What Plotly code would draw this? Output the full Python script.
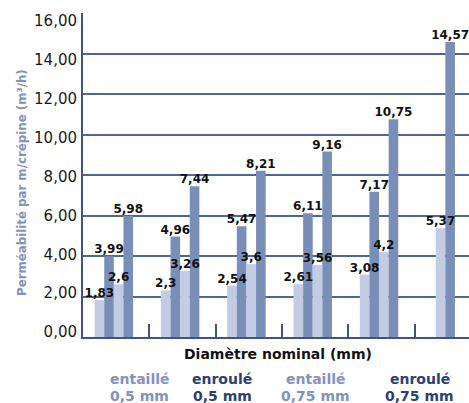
import plotly.graph_objects as go

# Permeability per metre of screen (m3/h) for each nominal diameter group
groups = [0, 1, 2, 3, 4, 5]
entaille_05 = [1.83, 2.3, 2.54, 2.61, 3.08, None]
enroule_05 = [3.99, 4.96, 5.47, 6.11, 7.17, None]
entaille_075 = [2.6, 3.26, 3.6, 3.56, 4.2, 5.37]
enroule_075 = [5.98, 7.44, 8.21, 9.16, 10.75, 14.57]

series_names = ["entaillé 0,5 mm", "enroulé 0,5 mm", "entaillé 0,75 mm", "enroulé 0,75 mm"]
series_values = [entaille_05, enroule_05, entaille_075, enroule_075]

y_ticks = [0, 2, 4, 6, 8, 10, 12, 14, 16]

LIGHT = "#c2cce2"
DARK = "#7a8fb8"
NAVY = "#3d5588"
TEXT_LIGHT = "#8093bd"
TEXT_DARK = "#2d3f70"
FONT = "DejaVu Sans"

series_colors = [LIGHT, DARK, LIGHT, DARK]
bar_w = 0.145
shift = -0.035


def fmt(v):
    return f"{v:g}".replace(".", ",")


# bars present in each group are packed side by side around the group centre
offsets = [[None] * len(groups) for _ in series_values]
for g in range(len(groups)):
    present = [s for s, vals in enumerate(series_values) if vals[g] is not None]
    n = len(present)
    for k, s in enumerate(present):
        offsets[s][g] = shift + (k - n / 2) * bar_w

fig = go.Figure()
label_x, label_y, label_t = [], [], []
for name, vals, col, offs in zip(series_names, series_values, series_colors, offsets):
    fig.add_trace(go.Bar(
        x=groups,
        y=vals,
        name=name,
        width=bar_w,
        offset=[o if o is not None else 0 for o in offs],
        marker=dict(color=col, line=dict(width=0)),
        showlegend=False,
        hoverinfo="skip",
    ))
    for g, v, o in zip(groups, vals, offs):
        if v is not None:
            label_x.append(g + o + bar_w / 2)
            label_y.append(v)
            label_t.append(fmt(v))

# value labels sit above every bar, on top of all bars
fig.add_trace(go.Scatter(
    x=label_x, y=label_y, text=label_t,
    mode="text", textposition="top center",
    textfont=dict(family=FONT, size=12, color="#111111", weight="bold"),
    cliponaxis=False, showlegend=False, hoverinfo="skip",
))

# carrier trace for the tick-label axis
fig.add_trace(go.Scatter(x=[None], y=[None], yaxis="y2", showlegend=False, hoverinfo="skip"))

plot_left = 83
plot_w = 469 - plot_left
cat_px = 66.3

fig.update_layout(
    width=469,
    height=403,
    margin=dict(l=plot_left, r=0, t=13, b=66),
    barmode="overlay",
    separators=", ",
    plot_bgcolor="white",
    paper_bgcolor="white",
    font=dict(family=FONT, color="#1a1a1a"),
    xaxis=dict(
        range=[-0.5, -0.5 + plot_w / cat_px],
        showgrid=False,
        zeroline=False,
        showline=True,
        linecolor=NAVY,
        linewidth=2,
        tickvals=[g + 0.5 for g in groups[:-1]],
        ticks="inside",
        ticklen=13,
        tickwidth=1.5,
        tickcolor=NAVY,
        showticklabels=False,
        fixedrange=True,
    ),
    yaxis=dict(
        range=[0, 16],
        tickvals=y_ticks,
        showgrid=True,
        gridcolor="#4d6696",
        gridwidth=1.5,
        zeroline=False,
        showline=True,
        linecolor=NAVY,
        linewidth=2,
        ticks="",
        showticklabels=False,
        fixedrange=True,
    ),
    # tick labels are set a little tighter than the gridlines
    yaxis2=dict(
        overlaying="y",
        side="left",
        range=[-0.257, 16.41],
        tickvals=y_ticks,
        tickformat=".2f",
        showgrid=False,
        zeroline=False,
        showline=False,
        ticks="",
        ticklabelstandoff=5,
        tickfont=dict(family=FONT, size=15, color="#1a1a1a"),
        fixedrange=True,
    ),
)

annotations = [
    dict(text="Perméabilité par m/crépine (m³/h)", textangle=-90,
         xref="paper", yref="paper", x=(22 - plot_left) / plot_w, y=(337 - 183) / 324,
         xanchor="center", yanchor="middle", showarrow=False,
         font=dict(family=FONT, size=11.8, color=TEXT_LIGHT, weight="bold")),
    dict(text="Diamètre nominal (mm)",
         xref="paper", yref="paper", x=(278 - plot_left) / plot_w, y=(337 - 354) / 324,
         xanchor="center", yanchor="middle", showarrow=False,
         font=dict(family=FONT, size=14, color="#111111", weight="bold")),
]

legend_centres = [139.5, 222, 315.5, 419.5]
legend_colors = [TEXT_LIGHT, TEXT_DARK, TEXT_LIGHT, TEXT_DARK]
for name, cx, col in zip(series_names, legend_centres, legend_colors):
    kind, size = name.split(" ", 1)
    for line, cy in ((kind, 379), (size, 396)):
        annotations.append(dict(
            text=line, xref="paper", yref="paper",
            x=(cx - plot_left) / plot_w, y=(337 - cy) / 324,
            xanchor="center", yanchor="middle", showarrow=False,
            font=dict(family=FONT, size=14, color=col, weight="bold"),
        ))

fig.update_layout(annotations=annotations)

fig.write_html("out.html")
